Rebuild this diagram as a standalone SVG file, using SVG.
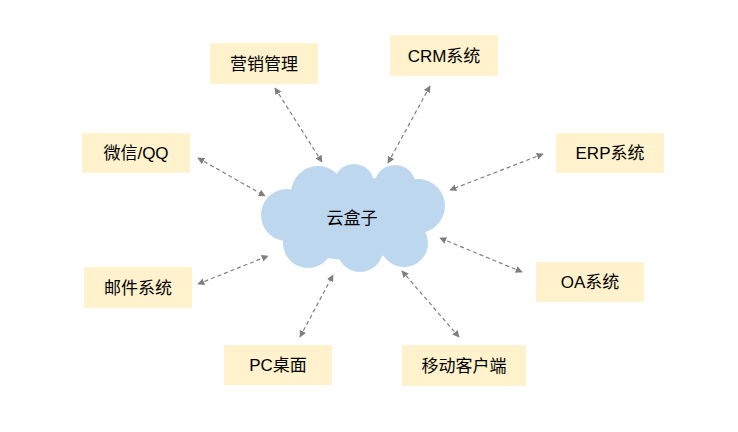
<svg xmlns="http://www.w3.org/2000/svg" width="738" height="432" viewBox="0 0 738 432">
<style>
.box{fill:#fff2cc}
.t{font-family:"Liberation Sans","Noto Sans CJK SC",sans-serif;font-size:17px;fill:#000;text-anchor:middle;dominant-baseline:central}
.c{stroke:#7f7f7f;stroke-width:1.2;stroke-dasharray:4,3;fill:none;marker-start:url(#a);marker-end:url(#a)}
.cl{fill:#bdd7ee}
</style>
<defs><marker id="a" viewBox="0 0 10 10" refX="9" refY="5" markerWidth="7" markerHeight="7" orient="auto-start-reverse" markerUnits="userSpaceOnUse"><path d="M0,0L10,5L0,10z" fill="#7f7f7f"/></marker></defs>
<rect width="738" height="432" fill="#fff"/>
<g id="cloud">
<ellipse class="cl" cx="350" cy="218" rx="75" ry="42"/>
<circle class="cl" cx="287" cy="215" r="26"/>
<circle class="cl" cx="318" cy="193" r="27"/>
<circle class="cl" cx="354" cy="184" r="20"/>
<circle class="cl" cx="395" cy="186" r="21"/>
<circle class="cl" cx="418" cy="206" r="27"/>
<circle class="cl" cx="404" cy="243" r="24"/>
<circle class="cl" cx="360" cy="249" r="23"/>
<circle class="cl" cx="308" cy="243" r="25"/>
<text class="t" x="352" y="218">云盒子</text>
</g>
<g id="n1"><rect class="box" x="210" y="43" width="108" height="41"/><text class="t" x="264" y="64">营销管理</text></g>
<g id="n2"><rect class="box" x="390" y="35" width="108" height="41"/><text class="t" x="444" y="56">CRM系统</text></g>
<g id="n3"><rect class="box" x="82" y="133" width="108" height="40"/><text class="t" x="136" y="153">微信/QQ</text></g>
<g id="n4"><rect class="box" x="556" y="133" width="108" height="40"/><text class="t" x="610" y="153">ERP系统</text></g>
<g id="n5"><rect class="box" x="84" y="267" width="108" height="41"/><text class="t" x="138" y="288">邮件系统</text></g>
<g id="n6"><rect class="box" x="536" y="262" width="108" height="40"/><text class="t" x="590" y="282">OA系统</text></g>
<g id="n7"><rect class="box" x="224" y="345" width="108" height="40"/><text class="t" x="278" y="365">PC桌面</text></g>
<g id="n8"><rect class="box" x="402" y="345" width="124" height="41"/><text class="t" x="464" y="366">移动客户端</text></g>
<g id="connectors">
<line class="c" x1="275" y1="88" x2="322" y2="162"/>
<line class="c" x1="430" y1="86" x2="388" y2="163"/>
<line class="c" x1="198" y1="158" x2="265" y2="196"/>
<line class="c" x1="543" y1="154" x2="450" y2="190"/>
<line class="c" x1="198" y1="284" x2="268" y2="256"/>
<line class="c" x1="522" y1="272" x2="440" y2="238"/>
<line class="c" x1="300" y1="337" x2="333" y2="275"/>
<line class="c" x1="459" y1="337" x2="402" y2="271"/>
</g>
</svg>
